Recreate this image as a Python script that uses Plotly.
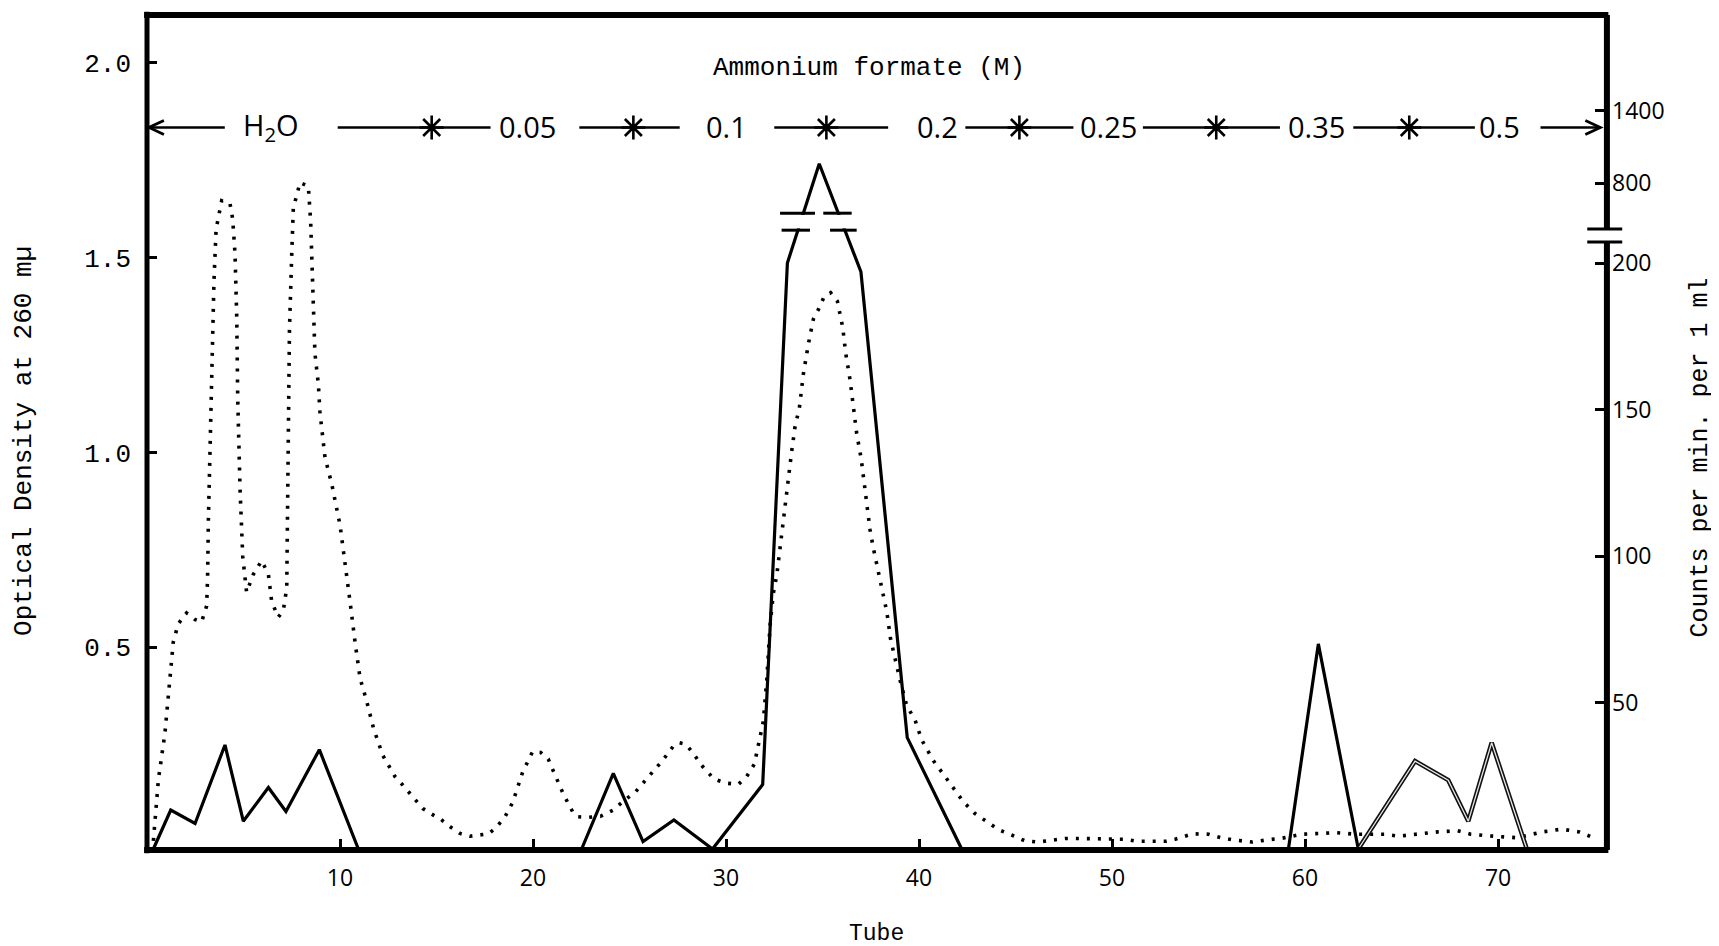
import plotly.graph_objects as go

# ---------------- data ----------------
# Optical density at 260 mµ (dotted curve), tube position vs OD
od_tube = [0.33, 0.59, 0.93, 1.19, 1.36, 1.62, 2.05, 2.49, 2.83, 3.09, 3.14, 3.18, 3.26, 3.35, 3.47, 3.58,
           3.87, 4.3, 4.44, 4.56, 4.65, 4.7, 4.82, 4.96, 5.08, 5.16, 5.51, 5.94, 6.29, 6.46, 6.8, 7.06,
           7.24, 7.27, 7.32, 7.38, 7.5, 7.58, 7.93, 8.36, 8.48, 8.58, 8.7, 8.88, 8.96, 9.22, 9.57, 10.0,
           10.26, 10.52, 10.78, 11.04, 11.38, 11.73, 12.21, 12.56, 12.85, 13.2, 13.54, 13.89, 14.29, 14.84,
           15.23, 15.74, 16.22, 16.74, 17.69, 18.09, 18.55, 18.95, 19.15, 19.36, 19.46, 19.76, 19.98, 20.39,
           20.79, 21.01, 21.25, 21.53, 21.82, 22.05, 22.29, 22.83, 23.5, 24.16, 24.62, 25.33, 25.8, 26.2,
           26.71, 27.27, 27.56, 27.92, 28.3, 28.73, 29.08, 29.37, 30.0, 30.64, 31.07, 31.47, 31.93, 32.11,
           32.28, 32.45, 32.63, 32.88, 33.06, 33.23, 33.4, 33.58, 33.8, 34.01, 34.27, 34.53, 34.79, 35.05,
           35.42, 35.77, 36.05, 36.2, 36.43, 36.6, 36.77, 37.0, 37.17, 37.32, 37.46, 37.63, 37.89, 38.12,
           38.33, 38.53, 38.71, 39.02, 39.36, 39.79, 40.14, 40.74, 41.35, 41.87, 42.3, 42.9, 43.51, 44.11,
           44.8, 45.49, 46.18, 46.75, 47.56, 48.38, 49.29, 50.67, 51.24, 51.97, 52.8, 53.27, 54.18, 55.0,
           55.65, 56.37, 57.27, 57.96, 58.84, 59.83, 60.78, 61.64, 62.59, 64.11, 64.84, 66.17, 66.88, 67.91,
           68.58, 69.46, 70.97, 72.3, 73.3, 74.2, 75.0]
od_value = [0.003, 0.16, 0.28, 0.41, 0.513, 0.56, 0.588, 0.571, 0.565, 0.606, 0.681, 0.826, 1.023, 1.243, 1.44, 1.573,
            1.646, 1.639, 1.599, 1.51, 1.347, 1.139, 0.907, 0.733, 0.664, 0.641, 0.687, 0.722, 0.687, 0.617, 0.577, 0.594,
            0.652, 0.849, 1.081, 1.313, 1.51, 1.626, 1.693, 1.683, 1.591, 1.429, 1.255, 1.174, 1.104, 0.988, 0.919, 0.814,
            0.722, 0.617, 0.513, 0.42, 0.362, 0.293, 0.223, 0.193, 0.168, 0.149, 0.129, 0.11, 0.086, 0.069,
            0.058, 0.038, 0.022, 0.015, 0.021, 0.037, 0.065, 0.102, 0.132, 0.157, 0.179, 0.21, 0.232, 0.23,
            0.213, 0.187, 0.157, 0.128, 0.099, 0.078, 0.065, 0.063, 0.066, 0.082, 0.102, 0.13, 0.157, 0.18,
            0.209, 0.246, 0.255, 0.251, 0.228, 0.197, 0.176, 0.162, 0.151, 0.148, 0.168, 0.2, 0.309, 0.415,
            0.555, 0.638, 0.685, 0.796, 0.873, 0.932, 1.002, 1.067, 1.114, 1.202, 1.279, 1.343, 1.367, 1.396,
            1.41, 1.388, 1.32, 1.255, 1.185, 1.114, 1.049, 0.985, 0.92, 0.861, 0.802, 0.755, 0.691, 0.644,
            0.591, 0.52, 0.479, 0.415, 0.35, 0.314, 0.262, 0.209, 0.168, 0.132, 0.103, 0.073, 0.052, 0.032,
            0.018, 0.003, 0.0, 0.003, 0.009, 0.009, 0.009, 0.007, 0.002, 0.002, 0.002, 0.007, 0.021, 0.02,
            0.011, 0.005, 0.0, 0.005, 0.01, 0.02, 0.022, 0.024, 0.02, 0.02, 0.015, 0.022, 0.026, 0.029,
            0.02, 0.016, 0.011, 0.026, 0.033, 0.026, 0.01]

# Counts per min. per 1 ml (solid line); None = no line drawn
cpm_tube = [0.33, 1.23, 2.49, 4.04, 4.99, 6.29, 7.2, 8.93, 10.95, None,
            22.52, 24.16, 25.7, 27.3, 29.3, 31.9, 33.18, 34.83, 36.99, 39.39, 42.21, None,
            59.14, 60.69, 62.76]
cpm_value = [0, 13.3, 8.7, 35.5, 9.5, 21, 12.8, 33.9, 0, None,
             0, 25.8, 2.5, 9.9, 0, 22, 200, 960, 197, 38, 0, None,
             0, 70, 0]
# last group, drawn as a hollow (double) line
cpm2_tube = [62.76, 65.7, 67.42, 68.46, 69.67, 71.49]
cpm2_value = [0, 30, 23.5, 9.5, 36.3, 0]

# ammonium formate steps
step_change_tubes = [14.75, 25.2, 35.2, 45.2, 55.4, 65.4]
step_labels = ["H<sub>2</sub>O", "0.05", "0.1", "0.2", "0.25", "0.35", "0.5"]
step_label_tubes = [6.4, 19.7, 30.05, 40.98, 49.8, 60.6, 70.1]

x_ticks = [10, 20, 30, 40, 50, 60, 70]
od_ticks = [0.5, 1.0, 1.5, 2.0]
od_tick_text = ["0.5", "1.0", "1.5", "2.0"]
cpm_ticks = [50, 100, 150, 200, 800, 1400]
cpm_tick_text = ["50", "100", "150", "200", "800", "1400"]

# broken right scale: 0-200 linear, 200-800 compressed (break), above 800 compressed scale
LOW_TOP = 200.0
UP_BASE = 227.3
UP_SLOPE = (251.9 - 227.3) / 600.0


def to_axis(c):
    if c is None:
        return None
    if c <= 200:
        return c
    if c <= 800:
        return LOW_TOP + (c - 200) * (UP_BASE - LOW_TOP) / 600.0
    return UP_BASE + (c - 800) * UP_SLOPE


MONO = "Liberation Mono"
SANS = "Open Sans"

fig = go.Figure()

fig.add_trace(go.Scatter(x=od_tube, y=od_value, mode="lines", yaxis="y",
                         line=dict(color="black", width=3.6, dash="3px,8px"),
                         hoverinfo="skip"))
fig.add_trace(go.Scatter(x=cpm_tube, y=[to_axis(v) for v in cpm_value], mode="lines", yaxis="y2",
                         connectgaps=False, line=dict(color="black", width=3.2),
                         hoverinfo="skip"))
fig.add_trace(go.Scatter(x=cpm2_tube, y=[to_axis(v) for v in cpm2_value], mode="lines", yaxis="y2",
                         line=dict(color="#111111", width=4.5), hoverinfo="skip"))
fig.add_trace(go.Scatter(x=cpm2_tube, y=[to_axis(v) for v in cpm2_value], mode="lines", yaxis="y2",
                         line=dict(color="#e8e8e8", width=1.3), hoverinfo="skip"))

ROW_Y = 1.834
fig.add_trace(go.Scatter(x=step_change_tubes, y=[ROW_Y] * len(step_change_tubes), mode="markers",
                         yaxis="y",
                         marker=dict(symbol="asterisk-open", size=20, color="black",
                                     line=dict(color="black", width=2.6)),
                         hoverinfo="skip"))

X_MAX = 75.49
shapes = []
# row line segments (gaps for labels)
row_segments = [(0, 4.03), (9.88, 17.8), (22.4, 27.6), (32.5, 38.4), (42.4, 48.0),
                (51.6, 58.7), (62.5, 68.8), (72.2, 75.3)]
for a, b in row_segments:
    shapes.append(dict(type="line", xref="x", yref="y", x0=a, x1=b, y0=ROW_Y, y1=ROW_Y,
                       line=dict(color="black", width=2.6), layer="above"))
# open arrow heads at both ends of the row
shapes.append(dict(type="path", xref="x", yref="y", xsizemode="pixel", ysizemode="pixel",
                   xanchor=0.1, yanchor=ROW_Y, path="M 15 7 L 0 0 L 15 -7",
                   line=dict(color="black", width=2.8), layer="above"))
shapes.append(dict(type="path", xref="x", yref="y", xsizemode="pixel", ysizemode="pixel",
                   xanchor=75.3, yanchor=ROW_Y, path="M -15 7 L 0 0 L -15 -7",
                   line=dict(color="black", width=2.8), layer="above"))

FW = 5
# frame
shapes += [
    dict(type="line", xref="paper", yref="paper", x0=0, x1=0, y0=-0.004, y1=1.004,
         line=dict(color="black", width=FW)),
    dict(type="line", xref="paper", yref="paper", x0=-0.002, x1=1.003, y0=1, y1=1,
         line=dict(color="black", width=FW + 1)),
    dict(type="line", xref="paper", yref="paper", x0=-0.002, x1=1.003, y0=0, y1=0,
         line=dict(color="black", width=FW + 1)),
    dict(type="line", xref="paper", yref="y2", x0=1.002, x1=1.002, y0=-0.341, y1=207.2,
         line=dict(color="black", width=FW + 1)),
    dict(type="line", xref="paper", yref="y2", x0=1.002, x1=1.002, y0=211.6, y1=284.64,
         line=dict(color="black", width=FW + 1)),
    # axis break marks
    dict(type="line", xref="paper", yref="y2", x0=0.9885, x1=1.0125, y0=207.2, y1=207.2,
         line=dict(color="black", width=3)),
    dict(type="line", xref="paper", yref="y2", x0=0.9885, x1=1.0125, y0=211.6, y1=211.6,
         line=dict(color="black", width=3)),
]
# break marks on the curve
shapes += [
    dict(type="rect", xref="x", yref="y2", x0=33.3, x1=34.4, y0=211.8, y1=216.4,
         fillcolor="white", line=dict(width=0), layer="above"),
    dict(type="rect", xref="x", yref="y2", x0=35.5, x1=36.5, y0=211.8, y1=216.4,
         fillcolor="white", line=dict(width=0), layer="above"),
    dict(type="line", xref="x", yref="y2", x0=32.8, x1=34.61, y0=217.0, y1=217.0,
         line=dict(color="black", width=3)),
    dict(type="line", xref="x", yref="y2", x0=35.04, x1=36.51, y0=217.0, y1=217.0,
         line=dict(color="black", width=3)),
    dict(type="line", xref="x", yref="y2", x0=32.88, x1=34.35, y0=211.2, y1=211.2,
         line=dict(color="black", width=3)),
    dict(type="line", xref="x", yref="y2", x0=35.39, x1=36.77, y0=211.2, y1=211.2,
         line=dict(color="black", width=3)),
]

annotations = []
for t, lab in zip(step_label_tubes, step_labels):
    annotations.append(dict(x=t, y=ROW_Y, xref="x", yref="y", text=lab, showarrow=False,
                            xanchor="center", yanchor="middle", yshift=1,
                            font=dict(family=SANS, size=29, color="black")))
annotations.append(dict(x=37.4, y=1.987, xref="x", yref="y", text="Ammonium formate (M)",
                        showarrow=False, xanchor="center", yanchor="middle",
                        font=dict(family=MONO, size=26, color="black")))
annotations.append(dict(x=-0.0844, y=0.49, xref="paper", yref="paper",
                        text="Optical Density at 260 mµ", textangle=-90, showarrow=False,
                        xanchor="center", yanchor="middle",
                        font=dict(family=MONO, size=26, color="black")))
annotations.append(dict(x=1.0665, y=0.47, xref="paper", yref="paper",
                        text="Counts per min. per 1 ml", textangle=-90, showarrow=False,
                        xanchor="center", yanchor="middle",
                        font=dict(family=MONO, size=25, color="black")))
annotations.append(dict(x=0.501, y=-0.101, xref="paper", yref="paper", text="Tube",
                        showarrow=False, xanchor="center", yanchor="middle",
                        font=dict(family=MONO, size=23, color="black")))

# the page body adds an 8 px offset; the figure is sized so the plot lands where the reference has it
fig.update_layout(
    width=1711, height=938,
    margin=dict(l=139, r=115, t=7, b=96),
    paper_bgcolor="white", plot_bgcolor="white",
    showlegend=False,
    font=dict(family=MONO, color="black"),
    xaxis=dict(range=[0, X_MAX], tickvals=x_ticks, ticks="inside", ticklen=11, tickwidth=2.5,
               tickcolor="black", showgrid=False, zeroline=False, showline=False,
               tickfont=dict(family=SANS, size=23, color="black"), ticklabelstandoff=12),
    yaxis=dict(range=[-0.0205, 2.1227], tickvals=od_ticks, ticktext=od_tick_text, ticks="inside",
               ticklen=10, tickwidth=3, tickcolor="black", showgrid=False, zeroline=False,
               showline=False, tickfont=dict(family=MONO, size=26, color="black"),
               ticklabelstandoff=15),
    yaxis2=dict(range=[-0.341, 284.64], overlaying="y", side="right",
                tickvals=[to_axis(v) for v in cpm_ticks], ticktext=cpm_tick_text,
                ticks="inside", ticklen=9, tickwidth=3, tickcolor="black", showgrid=False,
                zeroline=False, showline=False,
                tickfont=dict(family=SANS, size=23, color="black"), ticklabelstandoff=7),
    shapes=shapes,
    annotations=annotations,
)

fig.write_html("out.html")
